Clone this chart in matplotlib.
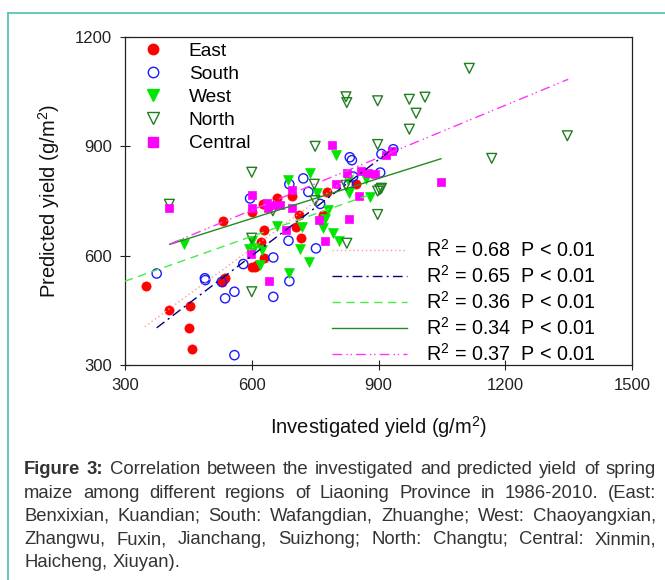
import matplotlib
matplotlib.use("Agg")
import matplotlib.pyplot as plt
from matplotlib.lines import Line2D
import numpy as np

plt.rcParams['font.family'] = ['Liberation Sans', 'DejaVu Sans']
plt.rcParams['mathtext.fontset'] = 'custom'
plt.rcParams['mathtext.rm'] = 'Liberation Sans'
plt.rcParams['mathtext.it'] = 'Liberation Sans:italic'

# ---------------- data ----------------
east_x = [349, 405, 455, 452, 459, 529, 537, 531, 600, 627, 659, 630, 621, 628, 608,
          713, 704, 716, 695, 777, 769, 847, 600, 612, 535]
east_y = [518, 450, 462, 401, 344, 528, 540, 696, 719, 741, 757, 670, 638, 593, 570,
          711, 678, 649, 764, 775, 711, 796, 568, 575, 535]

south_x = [375, 489, 490, 529, 537, 559, 559, 580, 596, 651, 651, 689, 687, 752, 722,
           734, 689, 762, 832, 837, 829, 840, 904, 907, 935]
south_y = [551, 538, 533, 528, 483, 501, 327, 577, 757, 595, 487, 530, 641, 620, 812,
           775, 796, 742, 870, 862, 794, 817, 828, 879, 892]

west_x = [440, 593, 606, 624, 620, 659, 686, 738, 755, 781, 773, 768, 792, 714, 736,
          689, 718, 806, 800, 827, 829, 880, 600, 870]
west_y = [633, 617, 620, 616, 575, 681, 807, 828, 773, 725, 701, 675, 663, 618, 582,
          552, 680, 639, 877, 808, 771, 762, 640, 810]

north_x = [405, 600, 600, 600, 650, 748, 750, 750, 825, 823, 898, 903, 898, 898, 823,
           825, 898, 973, 1010, 989, 973, 1115, 1347, 1168, 907]
north_y = [741, 829, 648, 501, 723, 796, 751, 900, 634, 793, 777, 781, 713, 905, 1036,
           1020, 1025, 1029, 1035, 991, 947, 1114, 929, 867, 785]

central_x = [405, 600, 598, 635, 639, 649, 667, 695, 695, 681, 641, 760, 774, 799, 825,
             830, 854, 858, 876, 892, 918, 932, 1048, 791, 600]
central_y = [732, 766, 604, 744, 730, 739, 738, 780, 731, 670, 530, 698, 641, 798, 826,
             701, 764, 831, 826, 824, 876, 887, 801, 905, 730]

series_names = ['East', 'South', 'West', 'North', 'Central']

# regression lines (start/end)
fit_x0 = [347, 375, 300, 406, 406]
fit_y0 = [405, 402, 530, 631, 632]
fit_x1 = [847, 935, 876, 1048, 1349]
fit_y1 = [830, 894, 766, 866, 1084]
r2_vals = ['0.68', '0.65', '0.36', '0.34', '0.37']
p_text = 'P < 0.01'

x_ticks = [300, 600, 900, 1200, 1500]
y_ticks = [300, 600, 900, 1200]

# ---------------- figure ----------------
W, H = 665, 580
fig = plt.figure(figsize=(W / 100, H / 100), dpi=100)
ax = fig.add_axes([125 / W, 1 - 365 / H, 507 / W, 328 / H])

ms = 44
ax.scatter(east_x, east_y, s=ms, marker='o', facecolor='#ff0000', edgecolor='#ff0000', lw=0.5, zorder=3)
ax.scatter(south_x, south_y, s=ms, marker='o', facecolor='none', edgecolor='#1a1aff', lw=1.0, zorder=3)
ax.scatter(west_x, west_y, s=ms + 6, marker='v', facecolor='#00e600', edgecolor='#00e600', lw=0.5, zorder=3)
ax.scatter(north_x, north_y, s=ms + 6, marker='v', facecolor='none', edgecolor='#1f7f1f', lw=1.0, zorder=3)
ax.scatter(central_x, central_y, s=ms - 4, marker='s', facecolor='#ff00ff', edgecolor='#ff00ff', lw=0.5, zorder=3)

line_styles = [
    dict(color='#ff9a9a', lw=1.0, linestyle=(0, (1, 2))),
    dict(color='#000080', lw=1.0, linestyle=(0, (7, 3, 1.5, 3))),
    dict(color='#44ee44', lw=1.0, linestyle=(0, (6, 4))),
    dict(color='#228b22', lw=1.0, linestyle='-'),
    dict(color='#ff33ff', lw=1.0, linestyle=(0, (7, 3, 1, 2, 1, 3))),
]
for i in range(5):
    ax.plot([fit_x0[i], fit_x1[i]], [fit_y0[i], fit_y1[i]], zorder=4, **line_styles[i])

ax.set_xlim(300, 1500)
ax.set_ylim(300, 1200)
ax.set_xticks(x_ticks)
ax.set_yticks(y_ticks)
ax.tick_params(direction='inout', length=7, width=0.8, labelsize=12, colors='#222222', pad=6)
ax.tick_params(top=False, right=False)
for sp in ax.spines.values():
    sp.set_linewidth(0.9)
    sp.set_color('#222222')

ax.set_xlabel('Investigated yield (g/m$^2$)', fontsize=14.5, labelpad=15, color='#111111')
ax.set_ylabel('Predicted yield (g/m$^2$)', fontsize=14.5, labelpad=9, color='#111111')

# legend for series
h1 = [
    Line2D([], [], marker='o', ls='none', mfc='#ff0000', mec='#ff0000', ms=7.5),
    Line2D([], [], marker='o', ls='none', mfc='none', mec='#1a1aff', mew=1.0, ms=7.5),
    Line2D([], [], marker='v', ls='none', mfc='#00e600', mec='#00e600', ms=8),
    Line2D([], [], marker='v', ls='none', mfc='none', mec='#1f7f1f', mew=1.0, ms=8),
    Line2D([], [], marker='s', ls='none', mfc='#ff00ff', mec='#ff00ff', ms=7),
]
leg1 = ax.legend(h1, series_names, loc='upper left', bbox_to_anchor=(0.035, 0.99),
                 frameon=False, fontsize=13.8, handlelength=0.9, handletextpad=1.4,
                 labelspacing=0.3, borderpad=0.1, borderaxespad=0)
ax.add_artist(leg1)

h2 = [Line2D([], [], **line_styles[i]) for i in range(5)]
labels2 = ['R$^2$ = %s  %s' % (r2_vals[i], p_text) for i in range(5)]
leg2 = ax.legend(h2, labels2, loc='lower left', bbox_to_anchor=(0.405, -0.005),
                 frameon=False, fontsize=14.2, handlelength=3.8, handletextpad=0.95,
                 labelspacing=0.2, borderpad=0.1, borderaxespad=0)

# teal page border
fig.add_artist(Line2D([8 / W, 8 / W], [0, 1 - 13 / H], transform=fig.transFigure, color='#5cc3b5', lw=1.3))
fig.add_artist(Line2D([8 / W, 1], [1 - 13 / H, 1 - 13 / H], transform=fig.transFigure, color='#5cc3b5', lw=1.3))

# caption (justified)
cap_family = ['Liberation Sans']
cap_fs = 13.3
cap_lines = [
    [('Figure', 'bold'), ('3:', 'bold'), ('Correlation', 'normal'), ('between', 'normal'), ('the', 'normal'),
     ('investigated', 'normal'), ('and', 'normal'), ('predicted', 'normal'), ('yield', 'normal'),
     ('of', 'normal'), ('spring', 'normal')],
    'maize among different regions of Liaoning Province in 1986-2010. (East:',
    'Benxixian, Kuandian; South: Wafangdian, Zhuanghe; West: Chaoyangxian,',
    'Zhangwu, Fuxin, Jianchang, Suizhong; North: Changtu; Central: Xinmin,',
    'Haicheng, Xiuyan).',
]
cap_left, cap_right = 24, 656
cap_y0, cap_dy = 470, 23.2
cap_color = '#333333'
renderer = fig.canvas.get_renderer()


def text_w(s, **kw):
    t = fig.text(0, 0, s, fontsize=cap_fs, family=cap_family, **kw)
    w = t.get_window_extent(renderer).width
    t.remove()
    return w


space_w = text_w('a a') - text_w('aa')
for li, line in enumerate(cap_lines):
    if isinstance(line, str):
        words = [(w, 'normal') for w in line.split()]
    else:
        words = line
    y = 1 - (cap_y0 + li * cap_dy) / H
    texts = []
    for w, wt in words:
        t = fig.text(0, y, w, fontsize=cap_fs, fontweight=wt, family=cap_family,
                     color=cap_color, va='center', ha='left')
        texts.append(t)
    widths = [t.get_window_extent(renderer).width for t in texts]
    last = li == len(cap_lines) - 1
    if last:
        gapw = space_w
    else:
        gapw = (cap_right - cap_left - sum(widths)) / (len(words) - 1)
    xpos = cap_left
    for t, wdt in zip(texts, widths):
        t.set_x(xpos / W)
        xpos += wdt + gapw

fig.savefig('out.png', dpi=100)
